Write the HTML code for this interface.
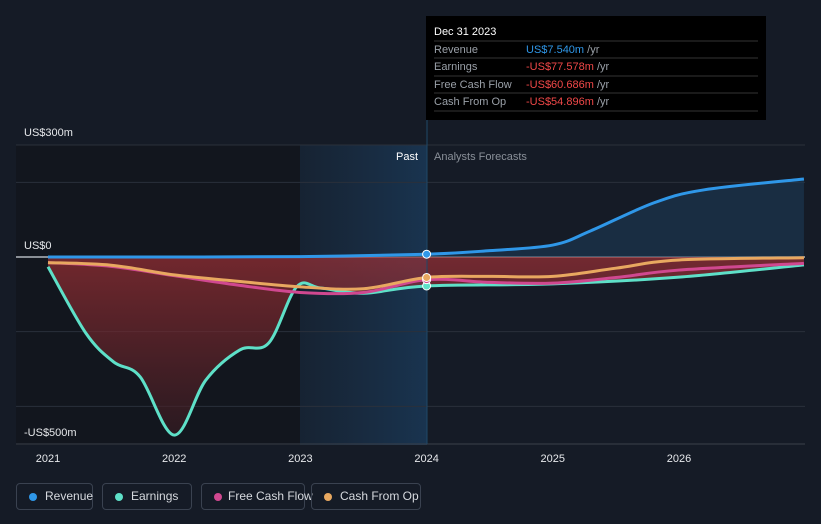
<!DOCTYPE html>
<html><head><meta charset="utf-8">
<style>
body{margin:0;width:821px;height:524px;background:#151b26;font-family:"Liberation Sans",sans-serif;overflow:hidden;position:relative}
.lg{position:absolute;top:483px;height:27px;border:1px solid #3a4250;border-radius:4px;color:#d6d9de;font-size:12px;line-height:25px;box-sizing:border-box;padding-left:28px;white-space:nowrap}
.lg i{position:absolute;left:12px;top:9px;width:8px;height:8px;border-radius:50%}
</style></head><body>
<svg id="c" width="821" height="524" style="position:absolute;left:0;top:0">
<defs>
<linearGradient id="past" x1="0" x2="1"><stop offset="0" stop-color="#1a3550" stop-opacity="0.3"/><stop offset="1" stop-color="#1a3a5a" stop-opacity="0.8"/></linearGradient>
<linearGradient id="red" x1="0" y1="0" x2="0" y2="1"><stop offset="0" stop-color="#a03035" stop-opacity="0.9"/><stop offset="1" stop-color="#3a1c22" stop-opacity="0.8"/></linearGradient>
</defs>
<rect x="16" y="145" width="284" height="300" fill="#12161e"/>
<rect x="300" y="145" width="127" height="300" fill="url(#past)"/>
<g id="grid"></g>
<g id="marks"></g>
<text x="24" y="136" fill="#e6e8eb" font-size="11">US$300m</text>
<text x="24" y="249" fill="#e6e8eb" font-size="11">US$0</text>
<text x="24" y="436" fill="#e6e8eb" font-size="11">-US$500m</text>
<text x="418" y="160" fill="#ffffff" font-size="11" text-anchor="end">Past</text>
<text x="434" y="160" fill="#8a9099" font-size="11">Analysts Forecasts</text>
<g id="xt"></g>
<g>
<rect x="426" y="16" width="340" height="104" fill="#000"/>
<text x="434" y="35" fill="#fff" font-size="11">Dec 31 2023</text>
<line x1="434" y1="41" x2="758" y2="41" stroke="#333"/>
<text x="434" y="53" fill="#9aa0a8" font-size="11">Revenue</text><text x="526" y="53" font-size="11" fill="#2f97e8">US$7.540m <tspan fill="#9aa0a8">/yr</tspan></text>
<line x1="434" y1="58" x2="758" y2="58" stroke="#333"/>
<text x="434" y="70" fill="#9aa0a8" font-size="11">Earnings</text><text x="526" y="70" font-size="11" fill="#f04848">-US$77.578m <tspan fill="#9aa0a8">/yr</tspan></text>
<line x1="434" y1="76" x2="758" y2="76" stroke="#333"/>
<text x="434" y="88" fill="#9aa0a8" font-size="11">Free Cash Flow</text><text x="526" y="88" font-size="11" fill="#f04848">-US$60.686m <tspan fill="#9aa0a8">/yr</tspan></text>
<line x1="434" y1="93" x2="758" y2="93" stroke="#333"/>
<text x="434" y="105" fill="#9aa0a8" font-size="11">Cash From Op</text><text x="526" y="105" font-size="11" fill="#f04848">-US$54.896m <tspan fill="#9aa0a8">/yr</tspan></text>
<line x1="434" y1="111" x2="758" y2="111" stroke="#333"/>
</g>
</svg>
<div class="lg" style="left:16px;width:77px"><i style="background:#2f97e8"></i>Revenue</div>
<div class="lg" style="left:102px;width:90px"><i style="background:#5ee0c8"></i>Earnings</div>
<div class="lg" style="left:201px;width:104px;padding-left:26px"><i style="background:#d04890"></i>Free Cash Flow</div>
<div class="lg" style="left:311px;width:110px"><i style="background:#e8a860"></i>Cash From Op</div>
<script>
const revT=[2021,2022,2023,2024,2024.5,2025,2025.3,2025.8,2026.2,2026.99];
const revV=[0,0,1,7.5,17,32,70,145,180,209];
const earnT=[2021,2021.3,2021.52,2021.73,2022,2022.25,2022.52,2022.75,2022.97,2023.16,2023.5,2024,2025,2026,2026.99];
const earnV=[-26,-204,-281,-321,-477,-330,-249,-230,-80,-83,-97,-77.6,-72,-54,-21];
const fcfT=[2021,2021.5,2022,2022.5,2023,2023.5,2024,2024.5,2025,2025.5,2026,2026.99];
const fcfV=[-15,-25,-50,-75,-95,-95,-60.7,-68,-70,-55,-35,-17];
const cfoT=[2021,2021.5,2022,2022.5,2023,2023.5,2024,2024.5,2025,2025.5,2026,2026.99];
const cfoV=[-15,-22,-48,-65,-80,-85,-54.9,-52,-52,-30,-8,-2];
const yTicks=[300,200,0,-200,-400];
const xTicks=[2021,2022,2023,2024,2025,2026];
const X=t=>48+(t-2021)*126.2, Y=v=>257-v*0.3733;
const NS='http://www.w3.org/2000/svg';
function mk(tag,attrs,parent){const e=document.createElementNS(NS,tag);for(const k in attrs)e.setAttribute(k,attrs[k]);parent.appendChild(e);return e;}
function path(T,V){const p=T.map((t,i)=>[X(t),Y(V[i])]);let d='M'+p[0];for(let i=0;i<p.length-1;i++){const a=p[i-1]||p[i],b=p[i],c=p[i+1],e=p[i+2]||c;d+=` C${b[0]+(c[0]-a[0])/6},${b[1]+(c[1]-a[1])/6} ${c[0]-(e[0]-b[0])/6},${c[1]-(e[1]-b[1])/6} ${c[0]},${c[1]}`;}return d;}
const grid=document.getElementById('grid');
yTicks.forEach(v=>{const g=mk('line',{x1:16,x2:805,y1:Y(v),y2:Y(v),stroke:v===0?'#8a8f96':'#2a303b','stroke-width':v===0?2:1},grid);

});
mk('line',{x1:16,x2:805,y1:444,y2:444,stroke:'#3a404a'},grid);
const xt=document.getElementById('xt');
xTicks.forEach(t=>{const l=mk('text',{x:X(t),y:462,fill:'#e6e8eb','font-size':11,'text-anchor':'middle'},xt);l.textContent=t;

});
const m=document.getElementById('marks');
const rp=path(revT,revV);
const rf=mk('path',{d:rp+` L${X(2026.99)},${Y(0)} L${X(2021)},${Y(0)}Z`,fill:'#1d3a55','fill-opacity':0.6},m);


const ef=mk('path',{d:path(earnT,earnV)+` L${X(2026.99)},${Y(0)} L${X(2021)},${Y(0)}Z`,fill:'url(#red)','fill-opacity':0.75},m);


mk('line',{x1:427,x2:427,y1:16,y2:444,stroke:'#1f4868','stroke-width':1},m);
const series=[[revT,revV,'#2f97e8','revenue-line'],[earnT,earnV,'#5ee0c8','earnings-line'],[fcfT,fcfV,'#d04890','free-cash-flow-line'],[cfoT,cfoV,'#e8a860','cash-from-op-line']];
series.forEach(s=>{const p=mk('path',{d:path(s[0],s[1]),fill:'none',stroke:s[2],'stroke-width':3},m);

});
series.forEach(s=>{const i=s[0].indexOf(2024);const c=mk('circle',{cx:X(2024),cy:Y(s[1][i]),r:4,fill:s[2],stroke:'#fff','stroke-width':1},m);

});
</script>
</body></html>
